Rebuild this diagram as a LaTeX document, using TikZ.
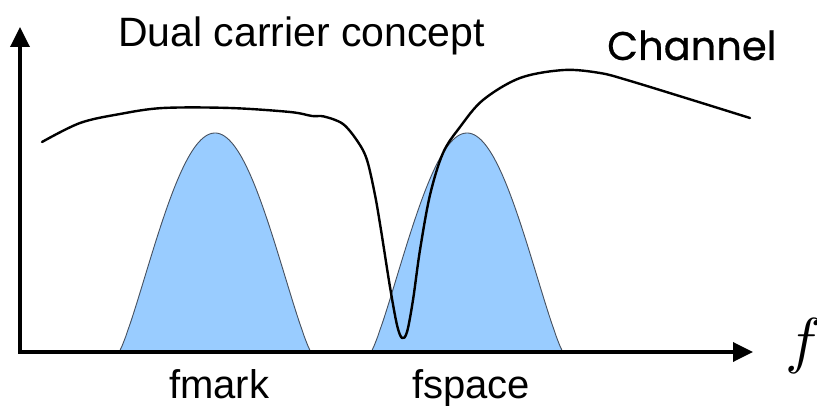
\documentclass[tikz,border=0pt]{standalone}
\usepackage{graphicx}
\usepackage{fontspec}
\setmainfont{Liberation Sans}
\newfontfamily\chanfont[FakeBold=0.6]{Poppins}
\usetikzlibrary{arrows.meta}
\definecolor{humpblue}{RGB}{153,204,255}
\definecolor{humpedge}{RGB}{70,80,95}
\tikzset{
  axisline/.style={line width=3.5pt, -{Triangle[length=20pt,width=19pt]}},
  humpshape/.style={fill=humpblue, draw=humpedge, line width=0.9pt},
  chanline/.style={line width=2.4pt, black, line cap=round, line join=round},
  lbl/.style={anchor=base west, inner sep=0pt, font=\fontsize{40}{44}\selectfont}
}
\begin{document}
\begin{tikzpicture}[x=1pt,y=-1pt]
\useasboundingbox (0,0) rectangle (817,406);
\fill[white] (0,0) rectangle (817,406);
% humps
\path[humpshape] (119,353) -- plot[domain=-0.995:0.995, samples=90] ({215+96*\x},{352-219*pow(max(cos(90*\x),0.0001),1.2)}) -- (311,353) -- cycle;
\path[humpshape] (371,353) -- plot[domain=-0.995:0.995, samples=90] ({467+96*\x},{352-219*pow(max(cos(90*\x),0.0001),1.2)}) -- (563,353) -- cycle;
% axes
\coordinate (O) at (20,352);
\coordinate (ytip) at (20,27);
\coordinate (xtip) at (753,352);
\draw[axisline] (O) -- (ytip);
\draw[axisline] ([xshift=-1.75pt]O) -- (xtip);
% channel
\draw[chanline] plot[smooth, tension=0.55] coordinates {
 (42,142) (80,123) (120,114) (163,108) (230,108) (290,112) (312,116) (324,116.5)
 (343,124) (358,142) (367,160) (375,195) (381,230) (390,287) (397,325) (402,338)
 (407,332) (413,300) (420,250) (430,195) (443,153) (460,127) (483,100)
 (520,78) (564,70) (600,73) (627,80) (689,99) (750,118)};
% labels
\node[lbl, font=\fontsize{41}{45}\selectfont] (title) at (118,47) {Dual carrier concept};
\node[anchor=base west, inner sep=0pt, font=\fontsize{40}{44}\selectfont\chanfont] (chan) at (607,60) {Channel};
\node[lbl] (fmark) at (169,398) {fmark};
\node[lbl] (fspace) at (412,398) {fspace};
\node[anchor=base west, inner sep=0pt] (fsym) at (785,361) {\scalebox{6.2}{$f$}};
\end{tikzpicture}
\end{document}
